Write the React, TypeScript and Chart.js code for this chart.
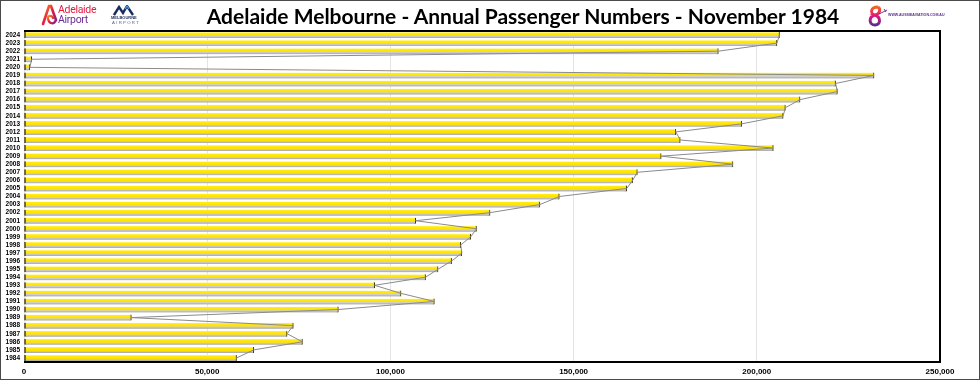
import { useEffect, useRef } from "react";
import { Chart, registerables } from "chart.js";

Chart.register(...registerables);

const years = [
  "1984", "1985", "1986", "1987", "1988", "1989", "1990", "1991", "1992", "1993",
  "1994", "1995", "1996", "1997", "1998", "1999", "2000", "2001", "2002", "2003",
  "2004", "2005", "2006", "2007", "2008", "2009", "2010", "2011", "2012", "2013",
  "2014", "2015", "2016", "2017", "2018", "2019", "2020", "2021", "2022", "2023",
  "2024",
];

const passengers = [
  58000, 62700, 76000, 71800, 73500, 29300, 85800, 112000, 102900, 95700,
  109600, 113000, 116700, 119500, 119200, 121900, 123500, 106900, 127200, 140800,
  146100, 164500, 166100, 167400, 193500, 173900, 204500, 179100, 177900, 195900,
  207200, 207800, 211800, 222000, 221500, 232000, 1600, 2100, 189500, 205500,
  206200,
];

const xTickValues = [0, 50000, 100000, 150000, 200000, 250000];

const titleText = "Adelaide Melbourne - Annual Passenger Numbers - November 1984";

const BAR_T = 6;

function barFill(ctx: any) {
  const chart = ctx.chart;
  if (!chart.chartArea || ctx.type !== "data" || !chart.scales.y) return "#ffe200";
  const c = chart.scales.y.getPixelForValue(ctx.dataIndex);
  const g = chart.ctx.createLinearGradient(0, c - BAR_T / 2, 0, c + BAR_T / 2);
  g.addColorStop(0, "#fffbd0");
  g.addColorStop(0.15, "#ffec10");
  g.addColorStop(0.6, "#ffe000");
  g.addColorStop(0.68, "#cfcfcf");
  g.addColorStop(1, "#a6a6a6");
  return g;
}

const frame = {
  id: "frame",
  afterDraw(chart: any) {
    const { ctx, chartArea: a } = chart;
    ctx.save();
    ctx.strokeStyle = "#000";
    ctx.lineWidth = 2;
    ctx.beginPath();
    ctx.moveTo(a.left, a.top);
    ctx.lineTo(a.right, a.top);
    ctx.lineTo(a.right, a.bottom);
    ctx.lineTo(a.left, a.bottom);
    ctx.stroke();
    ctx.restore();
  },
};

function AdelaideLogo() {
  return (
    <div style={{ position: "absolute", left: 41, top: 4, width: 60, height: 24 }}>
      <svg width="17" height="22" viewBox="0 0 17 22" style={{ position: "absolute", left: 0, top: 0 }}>
        <defs>
          <linearGradient id="adg" x1="0" y1="0" x2="1" y2="1">
            <stop offset="0" stopColor="#f7941d" />
            <stop offset="0.5" stopColor="#e5173f" />
            <stop offset="1" stopColor="#6b2c91" />
          </linearGradient>
        </defs>
        <path d="M2 20 L8 2 L10 2 L15 16" stroke="url(#adg)" strokeWidth="2.6" fill="none" strokeLinecap="round" />
        <path d="M15 16 C13 21 8 20 7 15 C6 11 11 11 12 14" stroke="url(#adg)" strokeWidth="2.2" fill="none" strokeLinecap="round" />
      </svg>
      <div style={{ position: "absolute", left: 17, top: 1, fontFamily: "Roboto", fontSize: 10.5, lineHeight: "10px", color: "#e31b3c", letterSpacing: -0.3 }}>Adelaide</div>
      <div style={{ position: "absolute", left: 17, top: 11, fontFamily: "Roboto", fontSize: 10.5, lineHeight: "10px", color: "#6b2c91", letterSpacing: -0.3 }}>Airport</div>
    </div>
  );
}

function MelbourneLogo() {
  return (
    <div style={{ position: "absolute", left: 111, top: 5, width: 30, height: 22 }}>
      <svg width="22" height="11" viewBox="0 0 22 11" style={{ position: "absolute", left: 2, top: 0 }}>
        <path d="M1 10 L6 2 L10 8 L14 1 L20 10" stroke="#1c2b5e" strokeWidth="2.4" fill="none" strokeLinejoin="miter" />
        <path d="M12 4 L14 1 L16 4" stroke="#4aa3df" strokeWidth="1.2" fill="none" />
      </svg>
      <div style={{ position: "absolute", left: 0, top: 11, fontFamily: "Liberation Sans", fontWeight: 700, fontSize: 4, lineHeight: "4px", color: "#1c2b5e", letterSpacing: 0 }}>MELBOURNE</div>
      <div style={{ position: "absolute", left: 1, top: 16, fontFamily: "Liberation Sans", fontSize: 4.3, lineHeight: "4px", color: "#54607f", letterSpacing: 1.3 }}>AIRPORT</div>
    </div>
  );
}

function AussieLogo() {
  return (
    <div style={{ position: "absolute", left: 866, top: 5, width: 90, height: 24 }}>
      <svg width="22" height="22" viewBox="0 0 22 22" style={{ position: "absolute", left: 0, top: 0 }}>
        <defs>
          <linearGradient id="aug" x1="0" y1="0" x2="0" y2="1">
            <stop offset="0" stopColor="#f26522" />
            <stop offset="0.5" stopColor="#e3147c" />
            <stop offset="1" stopColor="#5b2d8e" />
          </linearGradient>
        </defs>
        <path d="M12 2 C4 2 4 9 9 10 C2 12 3 20 9 20 C15 20 15 12 9 10 C14 9 15 4 12 2" stroke="url(#aug)" strokeWidth="3" fill="none" />
        <path d="M13 9 L21 5 M18 4 L20 7" stroke="#5b2d8e" strokeWidth="0.9" fill="none" />
      </svg>
      <div style={{ position: "absolute", left: 22, top: 8, fontFamily: "Liberation Sans", fontWeight: 700, fontSize: 3.6, lineHeight: "4px", color: "#5b2d8e", whiteSpace: "nowrap" }}>WWW.AUSSIEAVIATION.COM.AU</div>
    </div>
  );
}

export default function App() {
  const ref = useRef<HTMLCanvasElement | null>(null);

  useEffect(() => {
    document.body.style.margin = "0";
    const canvas = ref.current;
    if (!canvas) return;
    const chart = new Chart(canvas, {
      type: "bar",
      data: {
        labels: years,
        datasets: [
          {
            type: "line",
            data: passengers,
            borderColor: "#8a8a8a",
            borderWidth: 1,
            pointRadius: 0,
            tension: 0,
            order: 0,
          } as any,
          {
            type: "bar",
            data: passengers,
            backgroundColor: barFill,
            borderColor: "#3a3300",
            borderWidth: { left: 1.5, right: 1, top: 0, bottom: 0 },
            borderSkipped: false,
            barThickness: BAR_T,
            order: 1,
          } as any,
        ],
      },
      options: {
        indexAxis: "y",
        animation: false,
        responsive: false,
        maintainAspectRatio: false,
        layout: { padding: { left: 0, top: 31, right: 40, bottom: 0 } },
        plugins: {
          legend: { display: false },
          tooltip: { enabled: false },
          title: { display: false },
        },
        scales: {
          x: {
            type: "linear",
            min: 0,
            max: 250000,
            afterBuildTicks: (scale: any) => {
              scale.ticks = xTickValues.map((v) => ({ value: v }));
            },
            afterFit: (scale: any) => {
              scale.height = 18;
            },
            grid: { color: "#e4e4e4", lineWidth: 1, drawTicks: false },
            border: { display: false },
            ticks: {
              padding: 5,
              color: "#000",
              font: { family: "Liberation Sans", size: 8, weight: "bold" },
              callback: (v: any) => Number(v).toLocaleString("en-US"),
              maxRotation: 0,
            },
          },
          y: {
            type: "category",
            reverse: true,
            afterFit: (scale: any) => {
              scale.width = 24;
            },
            grid: { display: false, drawTicks: false },
            border: { display: false },
            ticks: {
              padding: 4,
              color: "#000",
              autoSkip: false,
              font: { family: "Liberation Sans", size: 6.5, weight: "bold" },
            },
          },
        },
      } as any,
      plugins: [frame],
    });
    return () => chart.destroy();
  }, []);

  return (
    <div style={{ position: "absolute", left: 0, top: 0, width: 980, height: 380, background: "#fff", overflow: "hidden" }}>
      <canvas ref={ref} width={980} height={380} style={{ position: "absolute", left: 0, top: 0, width: 980, height: 380 }} />
      <div
        style={{
          position: "absolute",
          left: 0,
          top: 5,
          width: 1046,
          textAlign: "center",
          fontFamily: "Lato",
          fontWeight: 700,
          fontSize: 21,
          lineHeight: "21px",
          color: "#000",
          whiteSpace: "nowrap",
        }}
      >
        {titleText}
      </div>
      <AdelaideLogo />
      <MelbourneLogo />
      <AussieLogo />
      <div style={{ position: "absolute", left: 0, top: 0, width: 980, height: 380, boxSizing: "border-box", border: "1px solid #4a4a4a", pointerEvents: "none" }} />
    </div>
  );
}
